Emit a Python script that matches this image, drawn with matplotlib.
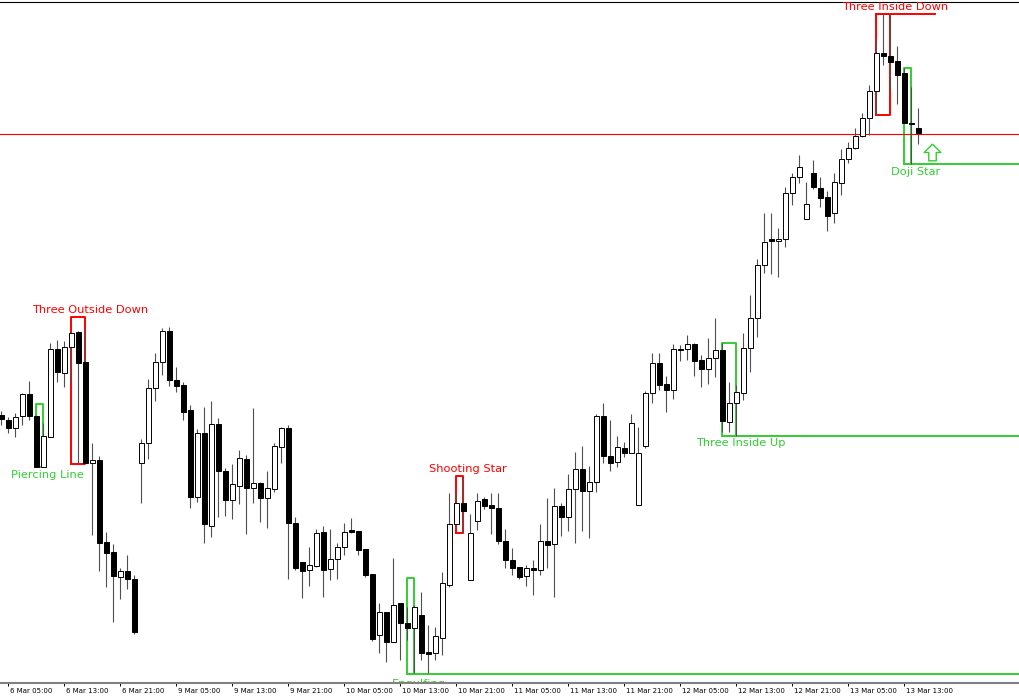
import matplotlib

matplotlib.use("Agg")
import matplotlib.pyplot as plt
import matplotlib.transforms as mtransforms
from matplotlib.patches import Rectangle
from matplotlib.path import Path


# hourly candles, price in points
OPEN = [585, 580, 572, 584, 606, 584, 533, 563, 651, 627, 653, 668, 638, 537, 540, 458,
        448, 423, 429, 421, 537, 557, 612, 638, 669, 620, 615, 590, 503, 567, 474, 576,
        529, 500, 514, 541, 512, 517, 502, 511, 553, 572, 477, 438, 430, 434, 468, 431,
        441, 453, 470, 469, 451, 426, 365, 388, 358, 397, 377, 372, 385, 348, 347, 362,
        415, 476, 497, 420, 479, 501, 495, 492, 459, 440, 433, 424, 432, 430, 459, 456,
        494, 483, 511, 531, 509, 518, 584, 544, 538, 552, 547, 495, 554, 607, 637, 616,
        610, 651, 651, 656, 640, 631, 642, 650, 578, 597, 607, 652, 682, 735, 761, 759,
        761, 807, 823, 781, 827, 812, 803, 787, 817, 841, 852, 864, 882, 909, 947, 944,
        939, 927, 877, 872]
HIGH = [589, 583, 587, 607, 619, 585, 577, 657, 660, 659, 668, 669, 671, 557, 544, 468,
        456, 432, 445, 425, 561, 621, 647, 672, 673, 633, 618, 595, 571, 593, 599, 582,
        532, 536, 550, 545, 592, 518, 529, 557, 573, 575, 483, 438, 453, 471, 474, 471,
        457, 477, 482, 469, 451, 426, 397, 388, 442, 397, 393, 395, 408, 375, 373, 428,
        507, 507, 524, 486, 507, 503, 507, 507, 471, 452, 433, 435, 440, 476, 502, 512,
        497, 526, 548, 554, 534, 586, 597, 580, 564, 558, 586, 573, 609, 647, 647, 624,
        656, 655, 665, 657, 645, 662, 682, 657, 618, 615, 667, 705, 741, 787, 787, 772,
        813, 827, 845, 818, 840, 823, 809, 827, 851, 858, 872, 887, 915, 960, 986, 986,
        954, 932, 913, 892]
LOW = [575, 567, 563, 575, 580, 533, 533, 563, 618, 613, 618, 537, 537, 465, 429, 413,
       378, 401, 411, 366, 497, 541, 599, 625, 614, 608, 580, 492, 498, 457, 463, 483,
       484, 481, 496, 466, 497, 478, 472, 508, 537, 421, 430, 402, 414, 433, 403, 420,
       421, 445, 467, 445, 423, 359, 347, 338, 358, 340, 360, 327, 340, 327, 340, 345,
       413, 474, 467, 420, 470, 491, 466, 456, 432, 425, 421, 414, 405, 425, 432, 403,
       464, 469, 457, 469, 462, 508, 537, 529, 533, 543, 547, 495, 552, 597, 610, 588,
       601, 639, 640, 624, 613, 616, 623, 568, 568, 564, 600, 628, 663, 727, 726, 723,
       753, 795, 817, 781, 811, 793, 769, 777, 805, 837, 851, 863, 865, 885, 935, 910,
       896, 877, 836, 856]
CLOSE = [581, 572, 583, 606, 584, 533, 564, 651, 628, 653, 667, 637, 537, 540, 457, 447,
         424, 429, 421, 368, 557, 612, 638, 669, 620, 614, 588, 503, 567, 476, 576, 529,
         500, 516, 542, 512, 517, 502, 512, 554, 572, 477, 432, 429, 435, 467, 430, 441,
         453, 468, 468, 450, 425, 361, 388, 358, 395, 377, 372, 393, 347, 346, 364, 417,
         476, 497, 489, 467, 499, 494, 492, 459, 440, 432, 423, 432, 430, 459, 455, 494,
         483, 511, 531, 509, 518, 584, 544, 537, 553, 547, 577, 547, 607, 637, 615, 610,
         651, 650, 656, 639, 631, 642, 650, 579, 597, 608, 652, 682, 735, 758, 759, 761,
         807, 823, 833, 796, 813, 802, 784, 818, 841, 852, 864, 882, 909, 947, 944, 938,
         925, 877, 876, 867]

TICK_BARS = list(range(1, 130, 8))
TICK_LABELS = ["6 Mar 05:00", "6 Mar 13:00", "6 Mar 21:00", "9 Mar 05:00", "9 Mar 13:00",
               "9 Mar 21:00", "10 Mar 05:00", "10 Mar 13:00", "10 Mar 21:00",
               "11 Mar 05:00", "11 Mar 13:00", "11 Mar 21:00", "12 Mar 05:00",
               "12 Mar 13:00", "12 Mar 21:00", "13 Mar 05:00", "13 Mar 13:00"]

# detected patterns: first bar, last bar, box high, box low
PATTERN_NAMES = ["Piercing Line", "Three Outside Down", "Engulfing", "Shooting Star",
                 "Three Inside Up", "Three Inside Down", "Doji Star"]
PATTERN_START = [5, 10, 58, 65, 103, 125, 129]
PATTERN_END = [6, 12, 59, 66, 105, 127, 130]
PATTERN_TOP = [596, 683, 422, 524, 657, 986, 932]
PATTERN_BOTTOM = [533, 536, 326, 467, 564, 885, 836]
PATTERN_BULLISH = [True, False, True, False, True, False, True]
PATTERN_LEVEL_BARS = [0, 0, 99, 0, 99, 8.4, 99]   # level line length after first bar
PATTERN_LABEL_GAP = [8, 7, 10, 7, 7, 7, 8]

ALERT_LEVEL = 866
SIGNAL_BAR = [133]
SIGNAL_PRICE = [848]

GREEN = "#32CD32"
RED = "#FF0000"

plt.rcParams["font.family"] = ["DejaVu Sans"]

fig = plt.figure(figsize=(10.2, 7), dpi=100)
ax = fig.add_axes([0, 17 / 700, 1, 681 / 700])
ax.set_xlim(-1.5 / 7, 1018.5 / 7)
ax.set_ylim(317, 998)

# candles
for i, (o, h, l, c) in enumerate(zip(OPEN, HIGH, LOW, CLOSE)):
    ax.plot([i, i], [l, h], color="#505050", lw=0.8, zorder=2, solid_capstyle="butt")
    bull = c > o
    ax.add_patch(Rectangle((i - 0.34, min(o, c)), 0.68, max(abs(c - o), 1),
                           facecolor="white" if bull else "black",
                           edgecolor="black", lw=0.7, zorder=3))

# pattern boxes and labels
xmax = ax.get_xlim()[1]
for name, s, e, top, bot, bull, ext, gap in zip(PATTERN_NAMES, PATTERN_START, PATTERN_END,
                                               PATTERN_TOP, PATTERN_BOTTOM, PATTERN_BULLISH,
                                               PATTERN_LEVEL_BARS, PATTERN_LABEL_GAP):
    col = GREEN if bull else RED
    ax.plot([s, s, e, e, s], [bot, top, top, bot, bot], color=col, lw=1.4, zorder=1)
    if ext:
        y = bot if bull else top
        ax.plot([s, min(s + ext, xmax)], [y, y], color=col, lw=1.4, zorder=1)
    ty = bot - gap if bull else top + gap
    ax.text(e + 0.6, ty, name, color=col, fontsize=8.2, ha="center", va="center",
            clip_on=True, zorder=4)

ax.axhline(ALERT_LEVEL, color=RED, lw=0.8, zorder=1)

arrow = Path([(0, 1), (-1, 0), (-0.45, 0), (-0.45, -1), (0.45, -1), (0.45, 0), (1, 0), (0, 1)],
             [Path.MOVETO] + [Path.LINETO] * 6 + [Path.CLOSEPOLY])
ax.plot(SIGNAL_BAR, SIGNAL_PRICE, marker=arrow, markersize=12, mfc="white", mec=GREEN,
        mew=1.0, ls="none", zorder=4)

for side in ["left", "right"]:
    ax.spines[side].set_visible(False)
ax.spines["top"].set_color("black")
ax.spines["top"].set_linewidth(0.8)
ax.spines["bottom"].set_color("#808080")
ax.spines["bottom"].set_linewidth(1.5)
ax.spines["bottom"].set_zorder(5)

ax.set_yticks([])
ax.set_xticks(TICK_BARS)
ax.set_xticklabels(TICK_LABELS, fontsize=5.0)
ax.tick_params(axis="x", length=2.5, width=0.7, pad=1.0, colors="black")
shift = mtransforms.ScaledTranslation(2 / 100, 0, fig.dpi_scale_trans)
for lbl in ax.get_xticklabels():
    lbl.set_horizontalalignment("left")
    lbl.set_transform(lbl.get_transform() + shift)

fig.savefig("out.png", dpi=100, facecolor="white")
